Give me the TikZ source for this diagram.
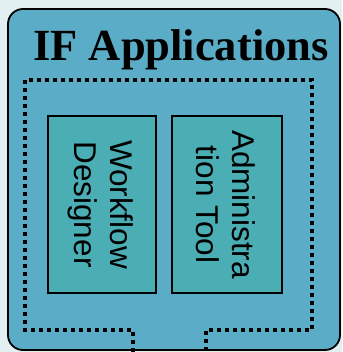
\documentclass[tikz,border=0pt]{standalone}
\usepackage{fontspec}
\setmainfont{Liberation Serif}
\newfontfamily\labelfont{Liberation Sans}
\definecolor{pagebg}{RGB}{226,240,242}
\definecolor{groupfill}{RGB}{91,172,198}
\definecolor{appfill}{RGB}{75,174,180}
\tikzset{
  appbox/.style={draw=black, line width=1.6pt, fill=appfill},
  applabel/.style={rotate=-90, align=center, font=\labelfont\fontsize{31.5}{36}\selectfont},
  boundary/.style={line width=3.6pt, dash pattern=on 3.6pt off 4.4pt},
}
\begin{document}
\begin{tikzpicture}[x=1pt, y=-1pt]
  \useasboundingbox (0,0) rectangle (342,352);
  \fill[pagebg] (0,0) rectangle (342,352);
  % outer group
  \draw[fill=groupfill, line width=1.8pt, rounded corners=15pt]
    (8,9) rectangle (340,350);
  \node[font=\bfseries\fontsize{44.5}{48}\selectfont, anchor=base] (title) at (181,61) {IF Applications};
  % dotted boundary with an opening at the bottom
  \coordinate (bl) at (133,352);
  \coordinate (br) at (206,352);
  \draw[boundary] (bl) -- (133,330) -- (25,330) -- (25,80) -- (312,80) -- (312,330) -- (206,330) -- (br);
  % application boxes
  \draw[appbox] (48,116) rectangle (156,293);
  \draw[appbox] (172,116) rectangle (282,293);
  \node[applabel] (wd) at (101,204.5) {Workflow\\Designer};
  \node[applabel] (at) at (226,204.5) {Administra\\tion Tool};
\end{tikzpicture}
\end{document}
